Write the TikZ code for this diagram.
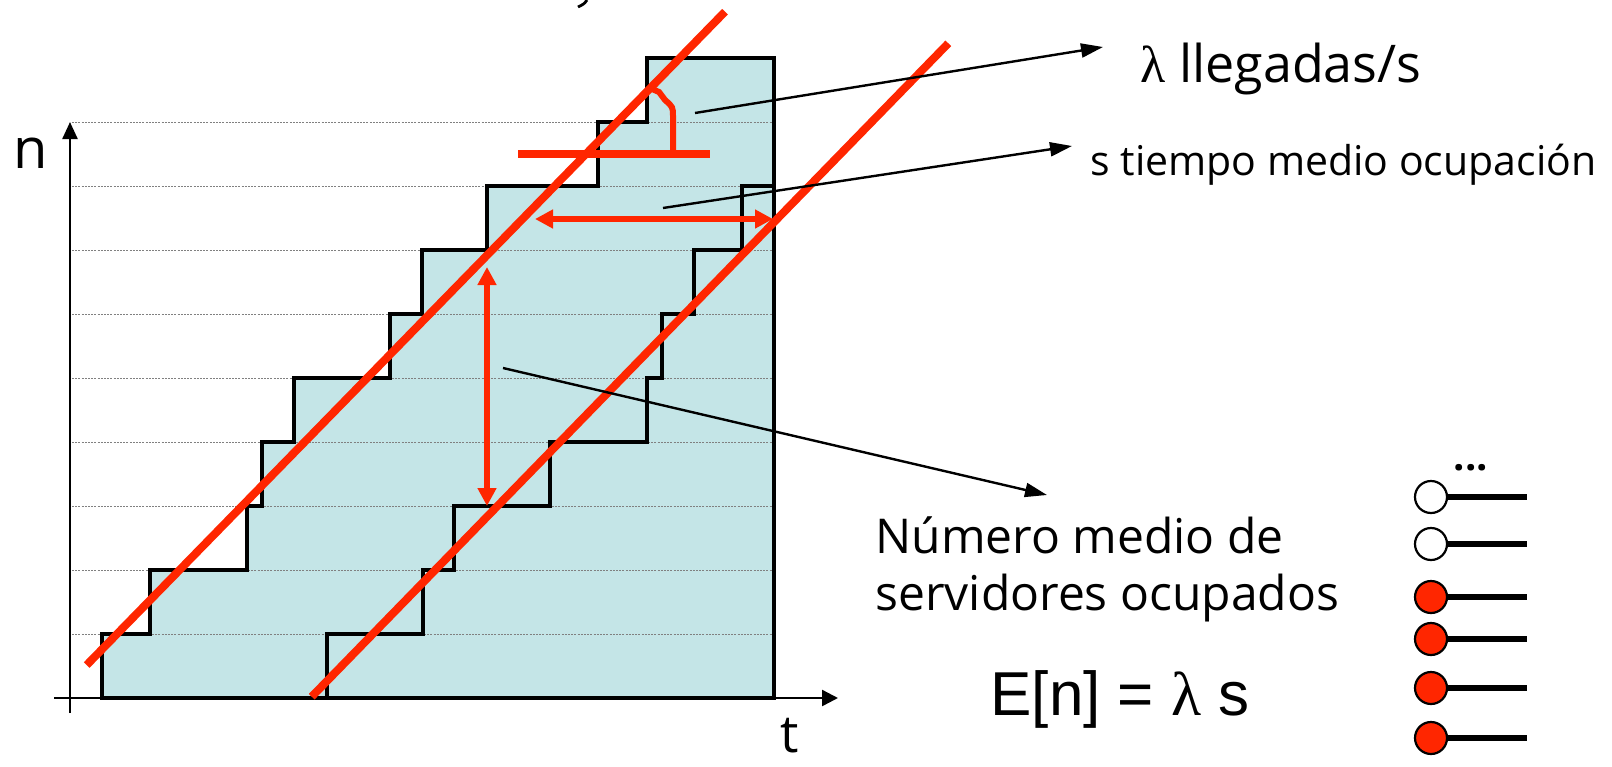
\documentclass[tikz,border=0pt]{standalone}
\usepackage{fontspec}
\setmainfont{Open Sans}
\newfontfamily\arialfont{Liberation Sans}
\newfontfamily\griega{Liberation Serif}
\usetikzlibrary{arrows.meta}
\definecolor{fondo}{RGB}{196,229,231}
\definecolor{rojo}{RGB}{255,38,0}
\tikzset{
  escalera/.style={line width=2pt},
  recta/.style={rojo,line width=4pt},
  flecha/.style={line width=1.2pt,-{Triangle[length=11pt,width=7pt]}},
  doble/.style={rojo,line width=3pt,{Triangle[length=9pt,width=9pt]}-{Triangle[length=9pt,width=9pt]}},
  rejilla/.style={gray,line width=0.5pt,dash pattern=on 1pt off 0.6pt},
  servidor/.style={circle,draw,line width=1.1pt,minimum size=16pt,inner sep=0pt},
  texto/.style={inner sep=0pt},
}
\begin{document}
\begin{tikzpicture}[x=0.5pt,y=-0.5pt]
\useasboundingbox (0,0) rectangle (1612,766);
\def\xfin{774}
\def\ycero{698}
\def\paso{64}
\fill[fondo] (101.7,698) |- (150,634) |- (246.7,570) |- (261.7,506) |- (294.3,442) |- (390,378)
  |- (422.3,314) |- (487,250) |- (597.7,186) |- (646.7,122) |- (\xfin,58) -- (\xfin,\ycero) -- cycle;
\foreach \k in {1,...,9}
  \draw[rejilla] (72,{\ycero-\paso*\k}) -- (\xfin,{\ycero-\paso*\k});
\draw[line width=1.2pt,-{Triangle[length=8pt,width=8pt]}] (54,\ycero) -- (838,\ycero);
\draw[line width=1.2pt,-{Triangle[length=8.5pt,width=7.5pt]}] (70,713) -- (70,122);
\node[texto,anchor=base west,font=\fontsize{28}{28}\selectfont] (ejeN) at (13,168) {n};
\node[texto,anchor=base,font=\fontsize{26}{26}\selectfont] (ejeT) at (790,752) {t};
\draw[escalera] (101.7,698) |- (150,634) |- (246.7,570) |- (261.7,506) |- (294.3,442) |- (390,378)
  |- (422.3,314) |- (487,250) |- (597.7,186) |- (646.7,122) |- (\xfin,58) -- (\xfin,\ycero) -- cycle;
\draw[escalera] (326.7,698) |- (422.7,634) |- (454,570) |- (550,506) |- (646.7,442) |- (662.3,378)
  |- (694.3,314) |- (742.3,250) |- (\xfin,186);
\draw[recta] (86.7,665) -- (725,11.7);
\draw[recta] (311.7,696.7) -- (948.3,43.3);
\draw[rojo,line width=4pt] (518,154) -- (710,154);
\draw[rojo,line width=3pt] (673,154) -- (673,117) .. controls (673,107) .. (665,100) -- (659,92) -- (652,89);
\draw[doble] (535,219) -- (773,219);
\draw[doble] (487,267) -- (487,506);
\draw[line width=1.4pt] (587,0) .. controls (584,4) .. (578,7);
\coordinate (aLam) at (695,113);
\coordinate (fLam) at (1103,47);
\coordinate (aOcup) at (663,208);
\coordinate (fOcup) at (1072,146);
\coordinate (aNum) at (503,368);
\coordinate (fNum) at (1047,495);
\draw[flecha] (aLam) -- (fLam);
\draw[flecha] (aOcup) -- (fOcup);
\draw[flecha] (aNum) -- (fNum);
\node[texto,anchor=base west,font=\fontsize{26}{26}\selectfont] (lam) at (1140,82) {{\griega λ} llegadas/s};
\node[texto,anchor=base west,font=\fontsize{20.5}{20.5}\selectfont] (ocup) at (1090,175) {s tiempo medio ocupación};
\node[texto,anchor=base west,align=left,font=\fontsize{24}{28.5}\selectfont] (num) at (875,610) {Número medio de\\servidores ocupados};
\node[texto,anchor=base west,font=\arialfont\fontsize{31}{31}\selectfont] (formula) at (990,715) {E[n] = {\griega λ} s};
\node[texto,anchor=base,font=\bfseries\fontsize{20}{20}\selectfont] (puntos) at (1471,470) {...};
\foreach \y/\c [count=\i] in {497/white,544/white,597/rojo,639/rojo,688/rojo,738/rojo} {
  \node[servidor,fill=\c] (s\i) at (1431,\y) {};
  \draw[line width=3pt] (s\i.east) -- (1527,\y);
}
\end{tikzpicture}
\end{document}
